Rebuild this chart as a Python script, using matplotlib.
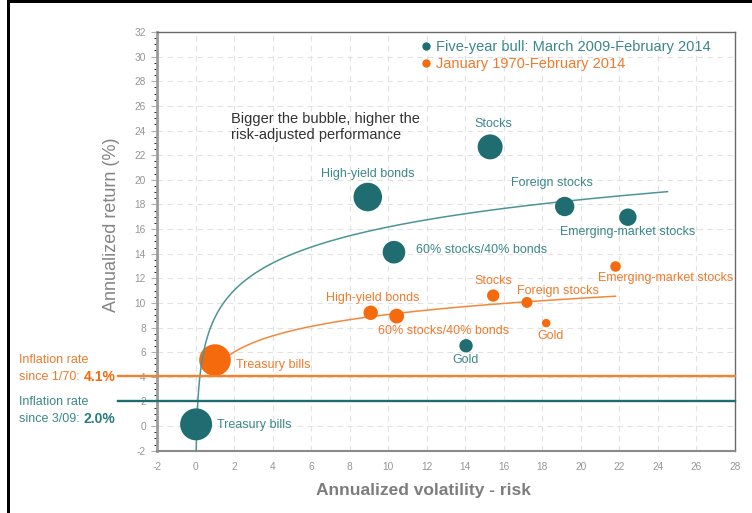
import numpy as np
import matplotlib
matplotlib.use("Agg")
import matplotlib.pyplot as plt
from matplotlib.lines import Line2D
from matplotlib.patches import Rectangle

plt.rcParams['font.family'] = ['Liberation Sans', 'DejaVu Sans']
plt.rcParams['axes.unicode_minus'] = False

# ---------------- data ----------------
categories = ["Treasury bills", "High-yield bonds", "Stocks", "Foreign stocks",
              "Emerging-market stocks", "60% stocks/40% bonds", "Gold"]

# Five-year bull: March 2009-February 2014
bull_risk = [0.03, 8.94, 15.29, 19.16, 22.44, 10.30, 14.04]
bull_return = [0.14, 18.60, 22.67, 17.83, 16.96, 14.12, 6.52]
bull_bubble = [2.56, 2.04, 1.56, 0.94, 0.76, 1.28, 0.45]   # risk-adjusted performance (bubble area)

# January 1970-February 2014
long_risk = [1.01, 9.09, 15.45, 17.20, 21.80, 10.44, 18.20]
long_return = [5.36, 9.20, 10.60, 10.04, 12.96, 8.93, 8.36]
long_bubble = [2.50, 0.52, 0.38, 0.30, 0.28, 0.55, 0.18]

# logarithmic trend lines: return = a + b * ln(risk), drawn over [start, end]
bull_trend = dict(a=8.8, b=3.2, start=0.034, end=24.5)
long_trend = dict(a=4.69, b=1.9, start=1.0, end=21.8)

series_names = ["Five-year bull: March 2009-February 2014", "January 1970-February 2014"]
inflation = [2.0, 4.1]
inflation_since = ["3/09", "1/70"]

x_ticks = list(range(-2, 29, 2))
y_ticks = list(range(-2, 33, 2))

# ---------------- style ----------------
W, H = 752, 513
TEAL = "#1f6d71"
TEAL_TXT = "#3b878b"
TEAL_LINE = "#4d9499"
ORANGE = "#f46a0c"
ORANGE_TXT = "#f07a2c"
ORANGE_LINE = "#f4883a"

fig = plt.figure(figsize=(W / 100, H / 100), dpi=100)
fig.patch.set_facecolor("white")


def fx(px):
    return px / W


def fy(py):
    return 1 - py / H


ax = fig.add_axes([fx(157), fy(450.7), fx(735) - fx(157), fy(32) - fy(450.7)])
ax.set_xlim(-2, 28)
ax.set_ylim(-2, 32)
ax.set_xticks(x_ticks)
ax.set_yticks(y_ticks)
ax.set_yticks(np.arange(-2, 32.01, 0.5), minor=True)
ax.tick_params(axis='both', labelsize=7.3, labelcolor="#959595", colors="#b0b0b0")
ax.tick_params(axis='y', which='major', length=4, width=0.8, pad=4)
ax.tick_params(axis='y', which='minor', length=2, width=0.6)
ax.tick_params(axis='x', which='major', length=0, pad=8)
ax.grid(True, which='major', color="#e2e2e2", linestyle=(0, (5, 4)), linewidth=0.8)
ax.set_axisbelow(True)
ax.spines['left'].set_color("#9c9c9c")
ax.spines['left'].set_linewidth(2.0)
ax.spines['bottom'].set_color("#8a8a8a")
ax.spines['bottom'].set_linewidth(1.5)
ax.spines['top'].set_color("#6a6a6a")
ax.spines['top'].set_linewidth(1.0)
ax.spines['right'].set_color("#6a6a6a")
ax.spines['right'].set_linewidth(1.0)

SCALE = 207.0  # points^2 per unit of bubble value


def trend(t):
    xs = np.geomspace(t['start'], t['end'], 400)
    return xs, t['a'] + t['b'] * np.log(xs)


# long-run trend under orange bubbles
xs, ys = trend(long_trend)
ax.plot(xs, ys, color=ORANGE_LINE, lw=1.1, zorder=2)
ax.scatter(long_risk, long_return, s=[SCALE * v for v in long_bubble], color=ORANGE,
           edgecolors='none', zorder=3)

xs, ys = trend(bull_trend)
ax.plot(xs, ys, color=TEAL_LINE, lw=1.1, zorder=4)
ax.scatter(bull_risk, bull_return, s=[SCALE * v for v in bull_bubble], color=TEAL,
           edgecolors='none', zorder=5)

# inflation lines
line_cols = [TEAL, "#f4822a"]
for v, c in zip(inflation, line_cols):
    ax.axhline(v, xmin=-0.0675, xmax=1, color=c, lw=1.7, clip_on=False, zorder=4.5)

# point labels (offsets in pixels from bubble centre)
bull_offsets = [(21, -1, 'left'), (0, 23, 'center'), (3, 23, 'center'), (-13, 23, 'center'),
                (0, -15, 'center'), (22, 2, 'left'), (0, -14, 'center')]
long_offsets = [(21, -5, 'left'), (2, 15, 'center'), (0, 15, 'center'), (31, 11, 'center'),
                (50, -12, 'center'), (47, -15, 'center'), (4, -13, 'center')]

for name, x, y, (dx, dy, ha) in zip(categories, bull_risk, bull_return, bull_offsets):
    ax.annotate(name, (x, y), xytext=(dx, dy), textcoords='offset pixels', ha=ha,
                va='center', fontsize=9, color=TEAL_TXT, zorder=6)
for name, x, y, (dx, dy, ha) in zip(categories, long_risk, long_return, long_offsets):
    ax.annotate(name, (x, y), xytext=(dx, dy), textcoords='offset pixels', ha=ha,
                va='center', fontsize=9, color=ORANGE_TXT, zorder=6)

# legend
handles = [Line2D([], [], marker='o', ls='', color=TEAL, markersize=5),
           Line2D([], [], marker='o', ls='', color=ORANGE, markersize=5)]
leg = ax.legend(handles, series_names, loc='upper left',
                bbox_to_anchor=(fx(421.5), fy(40.5)), bbox_transform=fig.transFigure,
                frameon=False, fontsize=10.5, handlelength=0.6, handletextpad=0.4,
                borderpad=0, borderaxespad=0, labelspacing=0.2)
for t, c in zip(leg.get_texts(), [TEAL_TXT, ORANGE_TXT]):
    t.set_color(c)

# note
fig.text(fx(231), fy(126.7), "Bigger the bubble, higher the\nrisk-adjusted performance",
         fontsize=10.5, color="#333333", ha='left', va='center', linespacing=1.2)

# inflation annotations
ann = [(inflation[1], inflation_since[1], ORANGE_TXT, ORANGE, 360.0),
       (inflation[0], inflation_since[0], TEAL_TXT, "#2a7a7e", 402.3)]
for v, since, ctext, cbold, y0 in ann:
    fig.text(fx(19.3), fy(y0), "Inflation rate", fontsize=9, color=ctext, ha='left', va='center')
    fig.text(fx(19.3), fy(y0 + 16.7), f"since {since}:", fontsize=9, color=ctext,
             ha='left', va='center')
    fig.text(fx(83.5), fy(y0 + 16.7), f"{v:.1f}%", fontsize=10, color=cbold,
             fontweight='bold', ha='left', va='center')

# axis titles
fig.text(fx(424), fy(490), "Annualized volatility - risk", fontsize=12.5, fontweight='bold',
         color="#7d7d7d", ha='center', va='center')
fig.text(fx(111), fy(225), "Annualized return (%)", fontsize=13, color="#858585",
         rotation=90, ha='center', va='center')

# black frame on top and left edges
fig.add_artist(Rectangle((fx(6.8), 0), fx(2.7), 1, transform=fig.transFigure,
                         color="black", lw=0))
fig.add_artist(Rectangle((fx(6.8), fy(2.8)), 1, 2.8 / H, transform=fig.transFigure,
                         color="black", lw=0))

fig.savefig("out.png", dpi=100)
